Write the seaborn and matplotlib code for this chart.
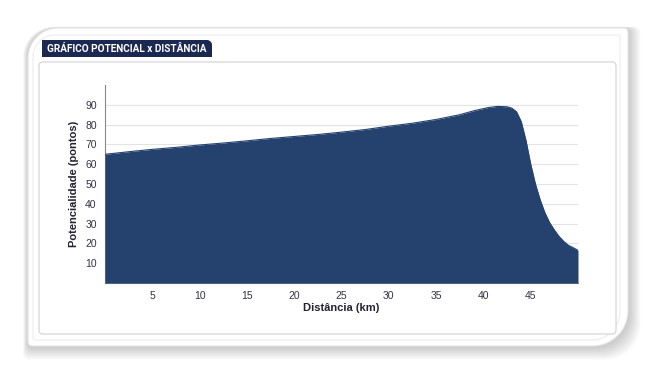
import numpy as np
import pandas as pd
import matplotlib
matplotlib.use("Agg")
import matplotlib.pyplot as plt
from matplotlib.patches import FancyBboxPatch, PathPatch
from matplotlib.path import Path
import seaborn as sns

# ---- data ----
distance_km = [0, 2.5, 5, 7.5, 10, 12.5, 15, 17.5, 20, 22.5, 25, 27.5, 30, 32.5,
               35, 37.5, 39, 40.5, 41.5, 42.5, 43, 43.5, 44, 44.5, 45, 45.5, 46,
               46.5, 47, 47.5, 48, 48.5, 49, 49.5, 50]
potential = [65, 66.3, 67.5, 68.5, 69.7, 70.7, 71.8, 73, 74, 75, 76.2, 77.5, 79.2,
             80.7, 82.6, 85, 87, 88.6, 89.2, 89, 88.3, 86.5, 81.5, 72, 60, 50, 42,
             35.5, 30.5, 26.8, 23.5, 21, 19, 17.8, 16.5]
x_ticks = [5, 10, 15, 20, 25, 30, 35, 40, 45]
y_ticks = [10, 20, 30, 40, 50, 60, 70, 80, 90]
title_text = "GRÁFICO POTENCIAL x DISTÂNCIA"
x_label = "Distância (km)"
y_label = "Potencialidade (pontos)"

df = pd.DataFrame({"dist": distance_km, "pot": potential})

sns.set_style("white")
plt.rcParams["font.family"] = ["Liberation Sans", "DejaVu Sans"]

W, H = 655, 373
fig = plt.figure(figsize=(W / 100, H / 100), dpi=100)
fig.patch.set_facecolor("white")


def fx(px):
    return px / W


def fy(py):
    return 1 - py / H


def rounded_path(x0, y0, x1, y1, rtl, rtr, rbr, rbl, k=0.55):
    # y grows downward (axes inverted); corners: top-left, top-right, bottom-right, bottom-left
    verts, codes = [], []
    verts.append((x0 + rtl, y0)); codes.append(Path.MOVETO)
    verts.append((x1 - rtr, y0)); codes.append(Path.LINETO)
    verts += [(x1 - rtr * (1 - k), y0), (x1, y0 + rtr * (1 - k)), (x1, y0 + rtr)]
    codes += [Path.CURVE4] * 3
    verts.append((x1, y1 - rbr)); codes.append(Path.LINETO)
    verts += [(x1, y1 - rbr * (1 - k)), (x1 - rbr * (1 - k), y1), (x1 - rbr, y1)]
    codes += [Path.CURVE4] * 3
    verts.append((x0 + rbl, y1)); codes.append(Path.LINETO)
    verts += [(x0 + rbl * (1 - k), y1), (x0, y1 - rbl * (1 - k)), (x0, y1 - rbl)]
    codes += [Path.CURVE4] * 3
    verts.append((x0, y0 + rtl)); codes.append(Path.LINETO)
    verts += [(x0, y0 + rtl * (1 - k)), (x0 + rtl * (1 - k), y0), (x0 + rtl, y0)]
    codes += [Path.CURVE4] * 3
    verts.append((x0 + rtl, y0)); codes.append(Path.CLOSEPOLY)
    return Path(verts, codes)


# background decoration (shadow + frames)
bg = fig.add_axes([0, 0, 1, 1])
bg.set_xlim(0, W)
bg.set_ylim(H, 0)
bg.axis("off")
for i in range(8):
    g = 1 + i * 1.6
    p = rounded_path(28 - g * 0.4, 28 - g * 0.1, 628 + g, 346 + g * 1.1, 30, 6, 35, 6)
    bg.add_patch(PathPatch(p, fc="black", ec="none", alpha=0.028, zorder=1))
bg.add_patch(PathPatch(rounded_path(28, 28, 628, 346, 30, 4, 35, 4),
                       fc="white", ec="#e4e4e4", lw=0.8, zorder=2))
bg.add_patch(PathPatch(rounded_path(33, 35, 620, 340, 22, 2, 28, 2),
                       fc="white", ec="#ececec", lw=0.8, zorder=3))
bg.add_patch(FancyBboxPatch((39, 62), 577, 272, boxstyle="round,pad=0,rounding_size=4",
                            fc="white", ec="#d6d6d6", lw=0.9, zorder=4))
# title tab
bg.add_patch(PathPatch(rounded_path(42, 40, 212, 57, 0, 5, 0, 0),
                       fc="#1b2852", ec="none", zorder=5))
t = bg.text(47, 49, title_text, color="white", fontsize=7.6, fontweight="bold",
            family=["Roboto", "DejaVu Sans"], va="center", ha="left", zorder=6)
fig.canvas.draw()
tw = t.get_window_extent().width
t.set_fontsize(7.6 * min(1.0, 160 / tw))

# plot area
ax = fig.add_axes([fx(105), fy(283), fx(578) - fx(105), fy(85) - fy(283)])
ax.set_facecolor("none")
fill_color = "#25426e"
sns.lineplot(data=df, x="dist", y="pot", ax=ax, color=fill_color, lw=0.8, zorder=3)
ax.fill_between(df["dist"], df["pot"], 0, color=fill_color, lw=0, zorder=3)

ax.set_xlim(0, 50)
ax.set_ylim(0, 100)
ax.set_xticks(x_ticks)
ax.set_yticks(y_ticks)
ax.set_xticks(np.arange(0, 50.01, 1), minor=True)
ax.set_yticks(np.arange(0, 100.01, 2), minor=True)
for yv in y_ticks:
    ax.axhline(yv, color="#e3e3e3", lw=0.8, zorder=1)
ax.grid(False)
for s in ["top", "right"]:
    ax.spines[s].set_visible(False)
ax.spines["left"].set_color("#888888")
ax.spines["bottom"].set_color("#888888")
ax.spines["left"].set_linewidth(0.8)
ax.spines["bottom"].set_linewidth(0.8)
ax.tick_params(axis="both", which="major", length=4, width=0.6, color="#999999",
               labelsize=7.5, labelcolor="#333344")
ax.tick_params(axis="both", which="minor", length=2, width=0.5, color="#bbbbbb")
ax.tick_params(axis="x", which="both", direction="in", pad=6)
ax.tick_params(axis="y", which="both", direction="out", pad=2)
ax.set_xlabel(x_label, fontsize=8, fontweight="bold", color="#222233")
ax.set_ylabel(y_label, fontsize=8, fontweight="bold", color="#222233", labelpad=4)
ax.xaxis.set_label_coords(0.5, -0.10)

fig.savefig("out.png", dpi=100, facecolor="white")
